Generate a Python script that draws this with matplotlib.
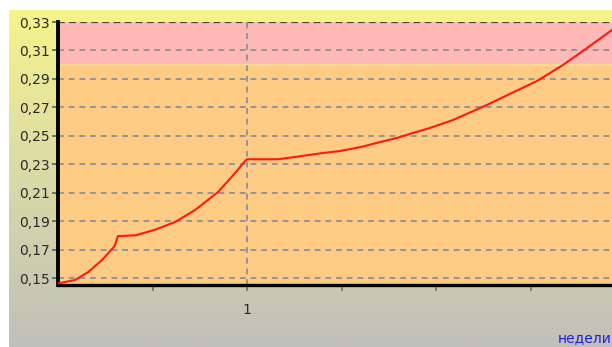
import numpy as np
import matplotlib
matplotlib.use("Agg")
import matplotlib.pyplot as plt
from matplotlib.colors import LinearSegmentedColormap

plt.rcParams['font.family'] = ['DejaVu Sans']

# Curve: value over weeks
weeks = [0.0, 0.09, 0.16, 0.233, 0.30, 0.317, 0.41, 0.51, 0.62, 0.725, 0.847,
         0.937, 0.99, 1.0, 1.164, 1.265, 1.402, 1.492, 1.608, 1.704, 1.794,
         1.878, 1.968, 2.09, 2.27, 2.39, 2.534, 2.672, 2.799, 2.931]
values = [0.1462, 0.1486, 0.1542, 0.1627, 0.1725, 0.1795, 0.1800, 0.1838,
          0.1894, 0.1978, 0.2105, 0.2238, 0.2323, 0.2335, 0.2335, 0.2353,
          0.2379, 0.2393, 0.2423, 0.2456, 0.2485, 0.2520, 0.2555, 0.2611,
          0.2717, 0.2794, 0.2885, 0.2998, 0.3117, 0.3244]

y_ticks = [0.15, 0.17, 0.19, 0.21, 0.23, 0.25, 0.27, 0.29, 0.31, 0.33]
y_labels = ["0,15", "0,17", "0,19", "0,21", "0,23", "0,25", "0,27", "0,29", "0,31", "0,33"]
x_major = [1]
x_major_labels = ["1"]
x_minor = [0.5, 1.5, 2.0, 2.5]
x_label = "недели"

# Zones: normal (orange) and alarm (pink)
zone_normal = (0.1451, 0.30)
zone_alarm = (0.30, 0.33)

W, H = 612, 347
fig = plt.figure(figsize=(W / 100, H / 100), dpi=100)
fig.patch.set_facecolor("white")

# Gradient background panel (yellow at top, grey at bottom)
bg = fig.add_axes([9 / W, 0, 1 - 9 / W, 1 - 10 / H])
bg.set_axis_off()
cmap = LinearSegmentedColormap.from_list(
    "panel", [(0.0, "#f6f48a"), (0.45, "#dcdca6"), (1.0, "#c0c0ba")])
grad = np.linspace(0, 1, 256).reshape(-1, 1)
bg.imshow(grad, aspect="auto", cmap=cmap, extent=[0, 1, 0, 1], origin="upper")
bg.set_xlim(0, 1)
bg.set_ylim(0, 1)

left, right = 58 / W, 1.0
bottom, top = (H - 285) / H, (H - 22) / H
ax = fig.add_axes([left, bottom, right - left, top - bottom])
ax.set_facecolor("none")
ax.set_xlim(0, 2.931)
ax.set_ylim(zone_normal[0], zone_alarm[1])

ax.axhspan(zone_normal[0], zone_normal[1], color="#fecb84", zorder=0, lw=0)
ax.axhspan(zone_alarm[0], zone_alarm[1], color="#feb8b6", zorder=0, lw=0)
ax.axhline(zone_alarm[0], color="#f8e08a", lw=1.2, zorder=0.5)

grid_kw = dict(color="#959595", lw=1.4, dashes=(3, 2.5), zorder=1)
for yv in y_ticks[:-1]:
    ax.axhline(yv, **grid_kw)
ax.axhline(y_ticks[-1], color="#4a4a30", lw=1.6, dashes=(3, 2), zorder=1)
for xv in x_major:
    ax.axvline(xv, **grid_kw)

ax.plot(weeks, values, color="#ff1a10", lw=1.5, zorder=3)

for s in ["top", "right"]:
    ax.spines[s].set_visible(False)
ax.spines["left"].set_linewidth(2.8)
ax.spines["left"].set_color("black")
ax.spines["bottom"].set_linewidth(2.4)
ax.spines["bottom"].set_color("black")

ax.set_yticks(y_ticks)
ax.set_yticklabels(y_labels, fontsize=10, color="#2a2a2a")
ax.set_xticks(x_major)
ax.set_xticklabels(x_major_labels, fontsize=10, color="#2a2a2a")
ax.set_xticks(x_minor, minor=True)
ax.tick_params(axis="y", direction="out", length=4, width=1.2, color="#606060", pad=2)
ax.tick_params(axis="x", which="both", direction="out", length=4, width=1.2,
               color="#707070", pad=9)

fig.text(558 / W, 1 - 338 / H, x_label, color="#2020e6", fontsize=10,
         va="center", ha="left")

fig.savefig("out.png", dpi=100, facecolor=fig.get_facecolor())
